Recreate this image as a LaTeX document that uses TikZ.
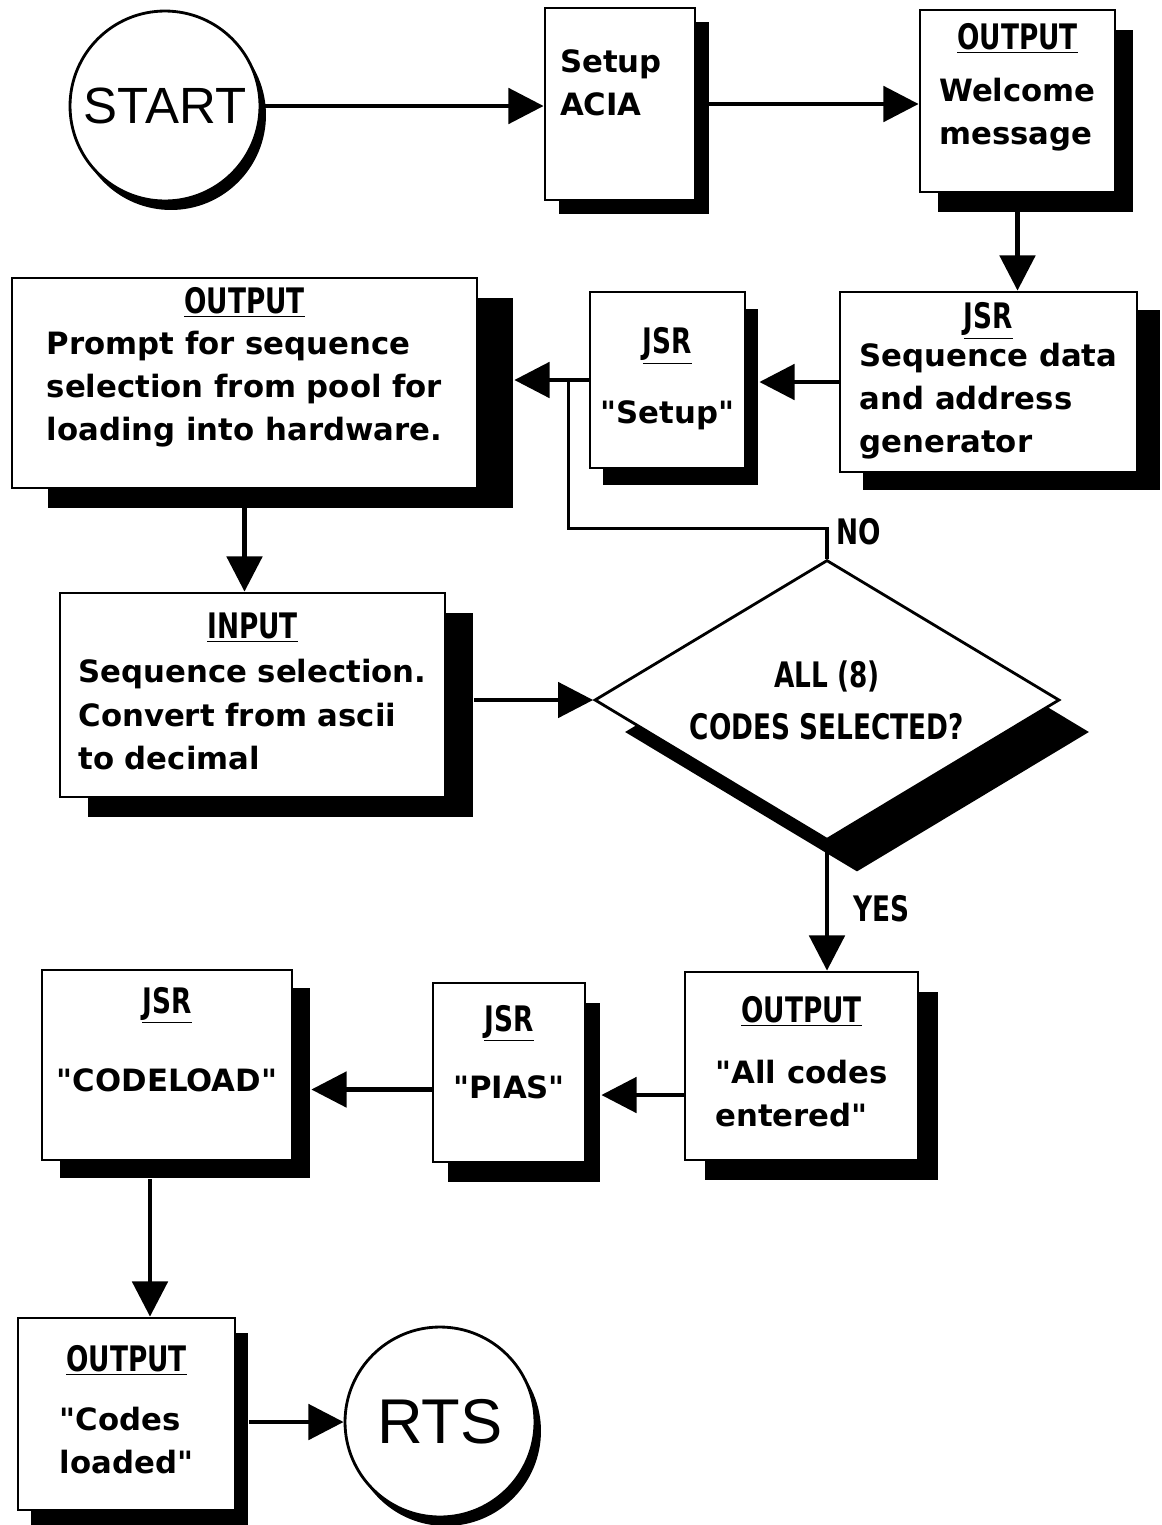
\documentclass[tikz,border=0pt]{standalone}
\usepackage{fontspec}
\setmainfont{DejaVu Sans}[Ligatures=TeXOff]
\newfontfamily\headfamily{DejaVu Sans}[FakeStretch=0.75, Ligatures=TeXOff]
\newfontfamily\termfont{Liberation Sans}
\usepackage{tikz}
\usetikzlibrary{arrows.meta,positioning,shapes.geometric,shadows,calc}
\newcommand{\boxfont}{\fontsize{17.5}{24.5}\selectfont\bfseries}
\newcommand{\headfont}{\headfamily\fontsize{20}{24.5}\selectfont\bfseries}
\newcommand{\titled}[3][0pt]{\begin{tabular}{@{}l@{}}\multicolumn{1}{@{}c@{}}{\headfont\underline{#2}}\\[#1]#3\end{tabular}}
\tikzset{
  procbox/.style 2 args={
    rectangle,
    draw=black,
    line width=1.6pt,
    fill=white,
    inner sep=0pt,
    font=\boxfont,
    drop shadow={shadow xshift=#1, shadow yshift=-#2, fill=black, opacity=1}
  },
  terminal/.style={
    circle,
    draw=black,
    line width=1.6pt,
    fill=white,
    inner sep=0pt,
    minimum size=3.8cm,
    drop shadow={shadow xshift=0.12cm, shadow yshift=-0.18cm, fill=black, opacity=1}
  },
  decision/.style={
    diamond,
    aspect=1.66,
    draw=black,
    line width=1.6pt,
    fill=white,
    inner sep=0pt,
    align=center,
    font=\headfont,
    drop shadow={shadow xshift=0.6cm, shadow yshift=-0.64cm, fill=black, opacity=1}
  },
  tag/.style={font=\headfont, inner sep=0pt},
  flow/.style={-{Triangle[length=20pt,width=20pt]}, line width=2.6pt},
  link/.style={line width=2pt}
}

\begin{document}
\begin{tikzpicture}[x=0.02cm, y=-0.02cm]
\useasboundingbox (0,0) rectangle (1162,1525);
% top row
\node[terminal, font=\termfont\fontsize{29}{29}\selectfont] (start) at (165,106) {START};
\node[procbox={0.28cm}{0.28cm}, minimum width=3cm, minimum height=3.84cm, text width=2.4cm, align=left] (acia) at (620,104) {Setup\\ACIA\\~};
\node[procbox={0.36cm}{0.4cm}, minimum width=3.9cm, minimum height=3.64cm] (welcome) at (1017.5,101) {\titled[5pt]{OUTPUT}{Welcome\\message\\[-10pt]\mbox{}}};
% second row
\node[procbox={0.46cm}{0.36cm}, minimum width=5.94cm, minimum height=3.6cm] (seqgen) at (988.5,382) {\titled[-3pt]{JSR}{Sequence data\\and address\\generator}};
\node[procbox={0.26cm}{0.34cm}, minimum width=3.1cm, minimum height=3.52cm] (setupjsr) at (667.5,380) {\titled[15pt]{JSR}{"Setup"}};
\node[procbox={0.72cm}{0.4cm}, minimum width=9.3cm, minimum height=4.2cm] (prompt) at (244.5,383) {\titled[-1pt]{OUTPUT}{Prompt for sequence\\selection from pool for\\loading into hardware.\\[-8pt]\mbox{}}};
% third row
\node[procbox={0.56cm}{0.4cm}, minimum width=7.7cm, minimum height=4.08cm] (input) at (252.5,695) {\titled[1pt]{INPUT}{Sequence selection.\\Convert from ascii\\to decimal}};
\node[decision, minimum width=9.3cm, minimum height=5.6cm] (decide) at (827,700) {ALL (8)\\[5pt]CODES SELECTED?};
% fourth row
\node[procbox={0.4cm}{0.4cm}, minimum width=4.66cm, minimum height=3.76cm] (allcodes) at (801.5,1066) {\titled[10pt]{OUTPUT}{"All codes\\entered"}};
\node[procbox={0.3cm}{0.4cm}, minimum width=3.04cm, minimum height=3.58cm] (pias) at (509,1072.5) {\titled[14pt]{JSR}{"PIAS"\\[-6pt]\mbox{}}};
\node[procbox={0.36cm}{0.36cm}, minimum width=5cm, minimum height=3.8cm] (codeload) at (167,1065) {\titled[20pt]{JSR}{"CODELOAD"\\\mbox{}}};
% last row
\node[procbox={0.26cm}{0.3cm}, minimum width=4.34cm, minimum height=3.84cm] (loaded) at (126.5,1414) {\titled[9pt]{OUTPUT}{"Codes\\loaded"}};
\node[terminal, font=\termfont\fontsize{36}{36}\selectfont] (rts) at (440,1422) {RTS};
% connectors
\draw[flow] (start.east) -- (start.east -| acia.west);
\draw[flow] (acia.east) -- (acia.east -| welcome.west);
\draw[flow] (welcome.south) -- (welcome.south |- seqgen.north);
\draw[flow] (seqgen.west) -- ($(setupjsr.east |- seqgen.west)+(13,0)$);
\draw[flow] (setupjsr.west) -- ($(prompt.east |- setupjsr.west)+(36,0)$);
\draw[flow] (prompt.south) -- (prompt.south |- input.north);
\draw[flow] ($(input.east |- decide.west)+(28,0)$) -- (decide.west);
\draw[flow] (decide.south) -- (decide.south |- allcodes.north);
\draw[flow] ($(allcodes.west)+(0,29)$) -- ($(pias.east |- allcodes.west)+(15,29)$);
\draw[flow] ($(pias.west)+(0,17)$) -- ($(codeload.east |- pias.west)+(18,17)$);
\draw[flow] ($(codeload.south)+(-17,18)$) -- ($(codeload.south |- loaded.north)+(-17,0)$);
\draw[flow] ($(loaded.east |- rts.west)+(13,0)$) -- (rts.west);
% NO branch back to the prompt
\coordinate (nojoin) at ($(setupjsr.west)+(-20,0)$);
\draw[link] (decide.north) -- ++(0,-30) -| (nojoin);
\node[tag, anchor=west] (nolbl) at ($(decide.north)+(9,-27)$) {NO};
\node[tag, anchor=west] (yeslbl) at ($(decide.south)+(26,67)$) {YES};
\end{tikzpicture}
\end{document}
